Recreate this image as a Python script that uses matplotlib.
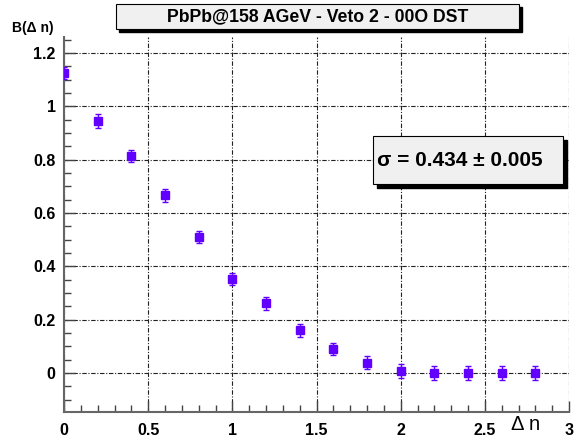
import matplotlib
matplotlib.use("Agg")
import matplotlib.pyplot as plt
from matplotlib.patches import Rectangle
from matplotlib.ticker import MultipleLocator

dn = [0.0, 0.2, 0.4, 0.6, 0.8, 1.0, 1.2, 1.4, 1.6, 1.8, 2.0, 2.2, 2.4, 2.6, 2.8]
B = [1.125, 0.945, 0.814, 0.667, 0.51, 0.352, 0.262, 0.161, 0.09, 0.039, 0.008, 0.0, 0.0, 0.0, 0.0]
Berr = [0.022, 0.026, 0.024, 0.024, 0.024, 0.022, 0.024, 0.024, 0.024, 0.025, 0.025, 0.025, 0.025, 0.025, 0.025]
title = "PbPb@158 AGeV - Veto 2 - 00O DST"
stat = "σ = 0.434 ± 0.005"

plt.rcParams['font.family'] = ['Liberation Sans', 'DejaVu Sans']
W, H = 577, 441
fig = plt.figure(figsize=(W/100, H/100), dpi=100)
fig.patch.set_facecolor('white')
ax = fig.add_axes([64/W, 1-412/H, (569-64)/W, (412-37)/H])
ax.set_xlim(0, 3)
ax.set_ylim(-0.146, 1.26)

col = '#6200ff'
ax.errorbar(dn, B, yerr=Berr, fmt='s', color=col, ms=5.5, ecolor=col, elinewidth=1,
            capsize=2.5, capthick=1, zorder=3)

ax.xaxis.set_major_locator(MultipleLocator(0.5))
ax.xaxis.set_minor_locator(MultipleLocator(0.1))
ax.yaxis.set_major_locator(MultipleLocator(0.2))
ax.yaxis.set_minor_locator(MultipleLocator(0.05))
ax.grid(True, which='major', color='#222222', linestyle=(0, (4, 1.5, 1, 1.5)), linewidth=0.8)
for s in ['top', 'right']:
    ax.spines[s].set_visible(False)
for s in ['left', 'bottom']:
    ax.spines[s].set_color('#666666')
    ax.spines[s].set_linewidth(1.5)
ax.tick_params(which='both', direction='in', color='#444444', width=1)
ax.tick_params(which='major', length=8, labelsize=11.5)
ax.tick_params(which='minor', length=5)
ax.tick_params(axis='x', pad=8)
ax.tick_params(axis='y', pad=6)
def fmt(v, p):
    return '%g' % round(v, 3)
ax.xaxis.set_major_formatter(plt.FuncFormatter(fmt))
ax.yaxis.set_major_formatter(plt.FuncFormatter(fmt))
for lab in ax.get_xticklabels() + ax.get_yticklabels():
    lab.set_fontweight('bold')

fig.text(12/W, 1-28/H, "B(Δ n)", fontsize=10, fontweight='bold', va='center', ha='left')
fig.text(526/W, 1-425/H, "Δ n", fontsize=14.5, va='center', ha='center')

def box(x0, y0, x1, y1, sh):
    fig.patches.append(Rectangle(((x0+sh)/W, 1-(y1+sh)/H), (x1-x0)/W, (y1-y0)/H,
                                 transform=fig.transFigure, facecolor='black', edgecolor='black', zorder=5))
    fig.patches.append(Rectangle((x0/W, 1-y1/H), (x1-x0)/W, (y1-y0)/H,
                                 transform=fig.transFigure, facecolor='#f0f0f0', edgecolor='black', lw=0.8, zorder=6))
box(116, 4, 519, 29, 3)
fig.text(318/W, 1-17/H, title, fontsize=12.7, fontweight='bold', ha='center', va='center', zorder=7)
box(373, 136, 563, 184, 4)
fig.text(460/W, 1-160/H, stat, fontsize=15, fontweight='bold', ha='center', va='center', zorder=7)

fig.savefig("out.png", dpi=100)
